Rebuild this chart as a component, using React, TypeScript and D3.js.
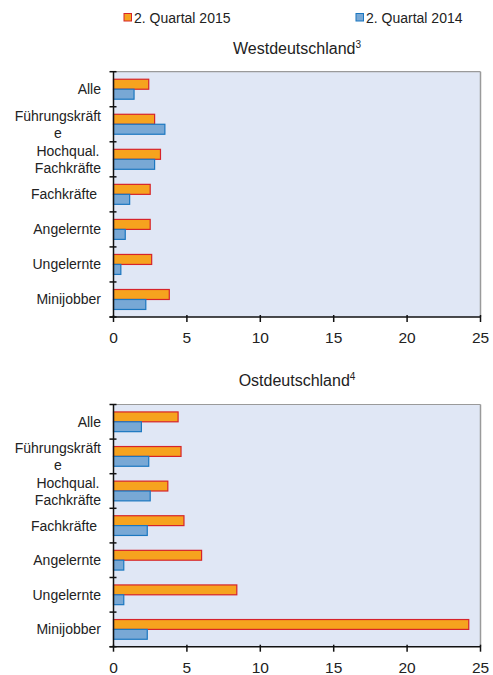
import React from "react";
import * as d3 from "d3";

const categories = ["Alle", "Führungskräfte", "Hochqual. Fachkräfte", "Fachkräfte", "Angelernte", "Ungelernte", "Minijobber"];
const categoryLines: string[][] = [["Alle"], ["Führungskräft", "e"], ["Hochqual.", "Fachkräfte"], ["Fachkräfte "], ["Angelernte"], ["Ungelernte"], ["Minijobber"]];
const seriesNames = ["2. Quartal 2015", "2. Quartal 2014"];
const west2015 = [2.4, 2.8, 3.2, 2.5, 2.5, 2.6, 3.8];
const west2014 = [1.4, 3.5, 2.8, 1.1, 0.8, 0.5, 2.2];
const ost2015 = [4.4, 4.6, 3.7, 4.8, 6.0, 8.4, 24.2];
const ost2014 = [1.9, 2.4, 2.5, 2.3, 0.7, 0.7, 2.3];
const xTicks = [0, 5, 10, 15, 20, 25];
const panelTitles = ["Westdeutschland", "Ostdeutschland"];
const panelSup = ["3", "4"];

const FONT = "'Liberation Sans', Arial, sans-serif";
const FILLS = ["#f6a31e", "#78a8d5"];
const STROKES = ["#d6242a", "#1b77c0"];

const measure = (() => {
  let ctx: CanvasRenderingContext2D | null = null;
  return (t: string, size: number) => {
    if (!ctx) ctx = document.createElement("canvas").getContext("2d");
    if (!ctx) return t.length * size * 0.5;
    ctx.font = `${size}px 'Liberation Sans', Arial, sans-serif`;
    return ctx.measureText(t).width;
  };
})();

function Panel({ top, bottom, titleY, title, sup, v2015, v2014 }: any) {
  const left = 113.5;
  const right = 480.5;
  const x = d3.scaleLinear().domain([0, 25]).range([left, right]);
  const y = d3.scaleBand<string>().domain(categories).range([top, bottom]).paddingInner(0.43).paddingOuter(0.215);
  const step = y.step();
  const sub = d3.scaleBand<string>().domain(seriesNames).range([0, y.bandwidth()]);
  const bounds = d3.range(categories.length + 1).map((i) => top + i * step);
  const values = [v2015, v2014];
  const labelRight = 101;
  return (
    <g>
      <text x={(left + right) / 2} y={titleY} textAnchor="middle" fontFamily={FONT} fontSize={16} fill="#222">
        {title}
        <tspan fontSize={10} dy={-6}>{sup}</tspan>
      </text>
      <rect x={left} y={top} width={right - left} height={bottom - top} fill="#e0e7f5" />
      <line x1={left} x2={right} y1={top} y2={top} stroke="#9a9a9a" strokeWidth={1.2} />
      <line x1={right} x2={right} y1={top} y2={bottom} stroke="#9a9a9a" strokeWidth={1.5} />
      {categories.map((c, i) =>
        seriesNames.map((s, k) => {
          const v = values[k][i];
          return (
            <rect
              key={c + s}
              x={x(0)}
              y={(y(c) as number) + (sub(s) as number)}
              width={x(v) - x(0)}
              height={sub.bandwidth()}
              fill={FILLS[k]}
              stroke={STROKES[k]}
              strokeWidth={1.2}
            />
          );
        })
      )}
      <line x1={left} x2={left} y1={top} y2={bottom} stroke="#111" strokeWidth={1.5} />
      <line x1={left - 4} x2={right} y1={bottom} y2={bottom} stroke="#111" strokeWidth={1.5} />
      {bounds.map((b, i) => (
        <line key={"yt" + i} x1={left - 4} x2={left + 3} y1={b} y2={b} stroke="#111" strokeWidth={1.5} />
      ))}
      {xTicks.map((t) => (
        <g key={"xt" + t}>
          <line x1={x(t)} x2={x(t)} y1={bottom - 2} y2={bottom + 5} stroke="#111" strokeWidth={1.5} />
          <text x={x(t)} y={bottom + 26} textAnchor="middle" fontFamily={FONT} fontSize={15.5} fill="#222">
            {t}
          </text>
        </g>
      ))}
      {categories.map((c, i) => {
        const lines = categoryLines[i];
        const cy = (y(c) as number) + y.bandwidth() / 2;
        if (lines.length === 1) {
          return (
            <text key={"l" + c} x={labelRight} y={cy + 5} textAnchor="end" fontFamily={FONT} fontSize={14} fill="#222" style={{ whiteSpace: "pre" }}>
              {lines[0]}
            </text>
          );
        }
        const w = Math.max(...lines.map((l) => measure(l, 14)));
        const cx = labelRight - w / 2;
        return (
          <text key={"l" + c} textAnchor="middle" fontFamily={FONT} fontSize={14} fill="#222">
            {lines.map((l, j) => (
              <tspan key={j} x={cx} y={cy + 5 + (j - (lines.length - 1) / 2) * 17}>
                {l}
              </tspan>
            ))}
          </text>
        );
      })}
    </g>
  );
}

export default function App() {
  const legendX = [124, 356];
  return (
    <svg width={493} height={675} style={{ position: "absolute", left: 0, top: 0, background: "#fff" }}>
      {seriesNames.map((s, k) => (
        <g key={s}>
          <rect x={legendX[k]} y={13.5} width={7.5} height={7.5} fill={FILLS[k]} stroke={STROKES[k]} strokeWidth={1} />
          <text x={legendX[k] + 10} y={23} fontFamily={FONT} fontSize={14} fill="#222">
            {s}
          </text>
        </g>
      ))}
      <Panel top={71.7} bottom={317} titleY={54} title={panelTitles[0]} sup={panelSup[0]} v2015={west2015} v2014={west2014} />
      <Panel top={404.5} bottom={646.7} titleY={386} title={panelTitles[1]} sup={panelSup[1]} v2015={ost2015} v2014={ost2014} />
    </svg>
  );
}
